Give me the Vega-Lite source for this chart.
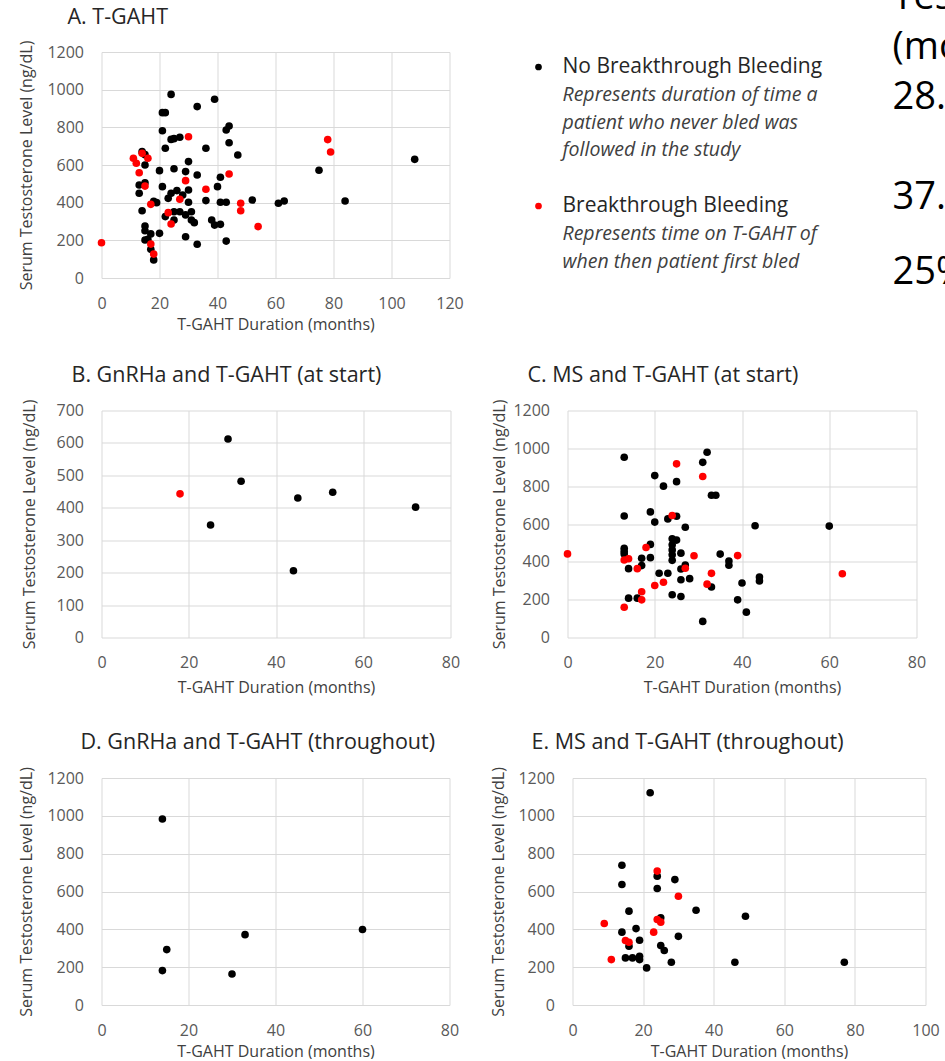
{
  "$schema": "https://vega.github.io/schema/vega-lite/v6.json",
  "padding": {"left": 18.5, "top": -21, "right": 0, "bottom": 0},
  "background": "white",
  "spacing": 32.5,
  "config": {
    "font": "Open Sans",
    "view": {"stroke": null},
    "axis": {"grid": true, "gridColor": "#d9d9d9", "gridWidth": 1, "domain": false, "ticks": false, "labelFlush": false, "labelColor": "#595959", "labelFontSize": 16, "titleColor": "#404040", "titleFontSize": 16, "titleFontWeight": "normal"},
    "axisX": {"labelPadding": 17, "titlePadding": 5},
    "axisY": {"labelPadding": 18},
    "title": {"anchor": "start", "fontSize": 21.5, "fontWeight": "normal", "color": "#262626", "frame": "group"}
  },
  "datasets": {
    "A": [
      {"months": 24, "level": 975, "status": "none"}, {"months": 21, "level": 878, "status": "none"}, {"months": 22, "level": 878, "status": "none"},
      {"months": 33, "level": 910, "status": "none"}, {"months": 39, "level": 949, "status": "none"}, {"months": 21, "level": 782, "status": "none"},
      {"months": 24, "level": 736, "status": "none"}, {"months": 25, "level": 740, "status": "none"}, {"months": 27, "level": 747, "status": "none"},
      {"months": 22, "level": 689, "status": "none"}, {"months": 36, "level": 689, "status": "none"}, {"months": 44, "level": 807, "status": "none"},
      {"months": 43, "level": 786, "status": "none"}, {"months": 44, "level": 718, "status": "none"}, {"months": 47, "level": 653, "status": "none"},
      {"months": 14, "level": 671, "status": "none"}, {"months": 15, "level": 655, "status": "none"}, {"months": 15, "level": 600, "status": "none"},
      {"months": 20, "level": 570, "status": "none"}, {"months": 25, "level": 580, "status": "none"}, {"months": 30, "level": 618, "status": "none"},
      {"months": 29, "level": 565, "status": "none"}, {"months": 33, "level": 547, "status": "none"}, {"months": 41, "level": 535, "status": "none"},
      {"months": 40, "level": 485, "status": "none"}, {"months": 13, "level": 494, "status": "none"}, {"months": 13, "level": 450, "status": "none"},
      {"months": 15, "level": 506, "status": "none"}, {"months": 21, "level": 485, "status": "none"}, {"months": 24, "level": 450, "status": "none"},
      {"months": 26, "level": 464, "status": "none"}, {"months": 23, "level": 423, "status": "none"}, {"months": 28, "level": 441, "status": "none"},
      {"months": 30, "level": 467, "status": "none"}, {"months": 19, "level": 400, "status": "none"}, {"months": 18, "level": 407, "status": "none"},
      {"months": 14, "level": 357, "status": "none"}, {"months": 30, "level": 402, "status": "none"}, {"months": 36, "level": 411, "status": "none"},
      {"months": 41, "level": 402, "status": "none"}, {"months": 43, "level": 402, "status": "none"}, {"months": 52, "level": 414, "status": "none"},
      {"months": 61, "level": 397, "status": "none"}, {"months": 63, "level": 409, "status": "none"}, {"months": 75, "level": 572, "status": "none"},
      {"months": 84, "level": 409, "status": "none"}, {"months": 108, "level": 630, "status": "none"}, {"months": 22, "level": 326, "status": "none"},
      {"months": 25, "level": 352, "status": "none"}, {"months": 25, "level": 308, "status": "none"}, {"months": 27, "level": 352, "status": "none"},
      {"months": 29, "level": 335, "status": "none"}, {"months": 31, "level": 352, "status": "none"}, {"months": 31, "level": 308, "status": "none"},
      {"months": 32, "level": 294, "status": "none"}, {"months": 38, "level": 308, "status": "none"}, {"months": 39, "level": 281, "status": "none"},
      {"months": 41, "level": 285, "status": "none"}, {"months": 15, "level": 276, "status": "none"}, {"months": 15, "level": 251, "status": "none"},
      {"months": 17, "level": 234, "status": "none"}, {"months": 15, "level": 202, "status": "none"}, {"months": 16, "level": 205, "status": "none"},
      {"months": 20, "level": 237, "status": "none"}, {"months": 18, "level": 96, "status": "none"}, {"months": 17, "level": 152, "status": "none"},
      {"months": 29, "level": 219, "status": "none"}, {"months": 33, "level": 179, "status": "none"}, {"months": 43, "level": 196, "status": "none"},
      {"months": 0, "level": 187, "status": "bleed"}, {"months": 11, "level": 636, "status": "bleed"}, {"months": 12, "level": 609, "status": "bleed"},
      {"months": 14, "level": 662, "status": "bleed"}, {"months": 16, "level": 636, "status": "bleed"}, {"months": 13, "level": 559, "status": "bleed"},
      {"months": 15, "level": 488, "status": "bleed"}, {"months": 17, "level": 391, "status": "bleed"}, {"months": 23, "level": 347, "status": "bleed"},
      {"months": 24, "level": 287, "status": "bleed"}, {"months": 27, "level": 418, "status": "bleed"}, {"months": 30, "level": 750, "status": "bleed"},
      {"months": 29, "level": 517, "status": "bleed"}, {"months": 36, "level": 471, "status": "bleed"}, {"months": 44, "level": 552, "status": "bleed"},
      {"months": 48, "level": 397, "status": "bleed"}, {"months": 48, "level": 357, "status": "bleed"}, {"months": 54, "level": 273, "status": "bleed"},
      {"months": 78, "level": 735, "status": "bleed"}, {"months": 79, "level": 669, "status": "bleed"}, {"months": 17, "level": 180, "status": "bleed"},
      {"months": 18, "level": 127, "status": "bleed"}
    ],
    "B": [
      {"months": 25, "level": 347, "status": "none"}, {"months": 29, "level": 612, "status": "none"}, {"months": 32, "level": 482, "status": "none"},
      {"months": 44, "level": 206, "status": "none"}, {"months": 45, "level": 430, "status": "none"}, {"months": 53, "level": 448, "status": "none"},
      {"months": 72, "level": 402, "status": "none"}, {"months": 18, "level": 443, "status": "bleed"}
    ],
    "C": [
      {"months": 13, "level": 953, "status": "none"}, {"months": 20, "level": 856, "status": "none"}, {"months": 22, "level": 800, "status": "none"},
      {"months": 25, "level": 824, "status": "none"}, {"months": 31, "level": 926, "status": "none"}, {"months": 32, "level": 979, "status": "none"},
      {"months": 33, "level": 752, "status": "none"}, {"months": 34, "level": 752, "status": "none"}, {"months": 13, "level": 642, "status": "none"},
      {"months": 19, "level": 664, "status": "none"}, {"months": 20, "level": 610, "status": "none"}, {"months": 23, "level": 627, "status": "none"},
      {"months": 25, "level": 641, "status": "none"}, {"months": 27, "level": 583, "status": "none"}, {"months": 43, "level": 591, "status": "none"},
      {"months": 60, "level": 589, "status": "none"}, {"months": 13, "level": 472, "status": "none"}, {"months": 13, "level": 455, "status": "none"},
      {"months": 13, "level": 441, "status": "none"}, {"months": 14, "level": 364, "status": "none"}, {"months": 14, "level": 208, "status": "none"},
      {"months": 16, "level": 208, "status": "none"}, {"months": 17, "level": 419, "status": "none"}, {"months": 17, "level": 380, "status": "none"},
      {"months": 19, "level": 492, "status": "none"}, {"months": 19, "level": 422, "status": "none"}, {"months": 21, "level": 340, "status": "none"},
      {"months": 23, "level": 340, "status": "none"}, {"months": 24, "level": 522, "status": "none"}, {"months": 24, "level": 490, "status": "none"},
      {"months": 24, "level": 463, "status": "none"}, {"months": 24, "level": 437, "status": "none"}, {"months": 24, "level": 408, "status": "none"},
      {"months": 25, "level": 515, "status": "none"}, {"months": 26, "level": 446, "status": "none"}, {"months": 26, "level": 362, "status": "none"},
      {"months": 26, "level": 305, "status": "none"}, {"months": 24, "level": 226, "status": "none"}, {"months": 26, "level": 217, "status": "none"},
      {"months": 27, "level": 383, "status": "none"}, {"months": 28, "level": 311, "status": "none"}, {"months": 31, "level": 85, "status": "none"},
      {"months": 33, "level": 267, "status": "none"}, {"months": 35, "level": 441, "status": "none"}, {"months": 37, "level": 404, "status": "none"},
      {"months": 37, "level": 382, "status": "none"}, {"months": 40, "level": 288, "status": "none"}, {"months": 39, "level": 199, "status": "none"},
      {"months": 41, "level": 134, "status": "none"}, {"months": 44, "level": 320, "status": "none"}, {"months": 44, "level": 299, "status": "none"},
      {"months": 0, "level": 442, "status": "bleed"}, {"months": 13, "level": 160, "status": "bleed"}, {"months": 13, "level": 410, "status": "bleed"},
      {"months": 14, "level": 416, "status": "bleed"}, {"months": 16, "level": 364, "status": "bleed"}, {"months": 17, "level": 242, "status": "bleed"},
      {"months": 17, "level": 199, "status": "bleed"}, {"months": 18, "level": 476, "status": "bleed"}, {"months": 20, "level": 275, "status": "bleed"},
      {"months": 22, "level": 292, "status": "bleed"}, {"months": 24, "level": 645, "status": "bleed"}, {"months": 25, "level": 918, "status": "bleed"},
      {"months": 27, "level": 366, "status": "bleed"}, {"months": 29, "level": 432, "status": "bleed"}, {"months": 31, "level": 851, "status": "bleed"},
      {"months": 32, "level": 282, "status": "bleed"}, {"months": 33, "level": 339, "status": "bleed"}, {"months": 39, "level": 433, "status": "bleed"},
      {"months": 63, "level": 337, "status": "bleed"}
    ],
    "D": [
      {"months": 14, "level": 983, "status": "none"}, {"months": 15, "level": 293, "status": "none"}, {"months": 14, "level": 182, "status": "none"},
      {"months": 30, "level": 164, "status": "none"}, {"months": 33, "level": 372, "status": "none"}, {"months": 60, "level": 399, "status": "none"}
    ],
    "E": [
      {"months": 22, "level": 1122, "status": "none"}, {"months": 14, "level": 739, "status": "none"}, {"months": 14, "level": 637, "status": "none"},
      {"months": 24, "level": 681, "status": "none"}, {"months": 24, "level": 616, "status": "none"}, {"months": 29, "level": 663, "status": "none"},
      {"months": 16, "level": 496, "status": "none"}, {"months": 35, "level": 501, "status": "none"}, {"months": 25, "level": 461, "status": "none"},
      {"months": 14, "level": 385, "status": "none"}, {"months": 18, "level": 404, "status": "none"}, {"months": 19, "level": 342, "status": "none"},
      {"months": 16, "level": 311, "status": "none"}, {"months": 30, "level": 363, "status": "none"}, {"months": 25, "level": 314, "status": "none"},
      {"months": 26, "level": 288, "status": "none"}, {"months": 15, "level": 249, "status": "none"}, {"months": 17, "level": 249, "status": "none"},
      {"months": 19, "level": 258, "status": "none"}, {"months": 19, "level": 240, "status": "none"}, {"months": 21, "level": 196, "status": "none"},
      {"months": 28, "level": 226, "status": "none"}, {"months": 46, "level": 226, "status": "none"}, {"months": 77, "level": 226, "status": "none"},
      {"months": 49, "level": 469, "status": "none"},
      {"months": 9, "level": 431, "status": "bleed"}, {"months": 11, "level": 240, "status": "bleed"}, {"months": 15, "level": 341, "status": "bleed"},
      {"months": 16, "level": 332, "status": "bleed"}, {"months": 24, "level": 708, "status": "bleed"}, {"months": 30, "level": 575, "status": "bleed"},
      {"months": 24, "level": 452, "status": "bleed"}, {"months": 25, "level": 438, "status": "bleed"}, {"months": 23, "level": 385, "status": "bleed"}
    ],
    "legend": [
      {"status": "none", "row": 0, "kind": "head", "text": "No Breakthrough Bleeding"},
      {"status": "none", "row": 1, "kind": "note", "text": "Represents duration of time a"},
      {"status": "none", "row": 2, "kind": "note", "text": "patient who never bled was"},
      {"status": "none", "row": 3, "kind": "note", "text": "followed in the study"},
      {"status": "bleed", "row": 5, "kind": "head", "text": "Breakthrough Bleeding"},
      {"status": "bleed", "row": 6, "kind": "note", "text": "Represents time on T-GAHT of"},
      {"status": "bleed", "row": 7, "kind": "note", "text": "when then patient first bled"}
    ],
    "side": [
      {"line": 0, "text": "Tes"},
      {"line": 2, "text": "(mo"},
      {"line": 4, "text": "28."},
      {"line": 8, "text": "37."},
      {"line": 11, "text": "25%"}
    ]
  },
  "vconcat": [
    {
      "spacing": 16,
      "hconcat": [
        {
          "width": 348, "height": 226,
          "data": {"name": "A"},
          "title": {"text": "A. T-GAHT", "dx": -34, "offset": 12},
          "mark": {"type": "point", "filled": true, "size": 58, "opacity": 1},
          "encoding": {
            "x": {"field": "months", "type": "quantitative", "scale": {"domain": [0, 120], "nice": false}, "axis": {"values": [0, 20, 40, 60, 80, 100, 120], "title": "T-GAHT Duration (months)"}},
            "y": {"field": "level", "type": "quantitative", "scale": {"domain": [0, 1200], "nice": false}, "axis": {"values": [0, 200, 400, 600, 800, 1000, 1200], "format": "d", "title": "Serum Testosterone Level (ng/dL)", "titlePadding": 12}},
            "color": {"field": "status", "type": "nominal", "scale": {"domain": ["none", "bleed"], "range": ["#000000", "#ff0000"]}, "legend": null}
          }
        },
        {
          "width": 413, "height": 250,
          "layer": [
            {
              "data": {"name": "legend"},
              "transform": [{"filter": "datum.kind === 'head'"}],
              "mark": {"type": "point", "filled": true, "size": 45, "opacity": 1},
              "encoding": {
                "x": {"value": 59},
                "y": {"field": "row", "type": "quantitative", "scale": {"domain": [-0.54, 8.453], "reverse": true, "nice": false, "zero": false}, "axis": null},
                "color": {"field": "status", "type": "nominal", "scale": {"domain": ["none", "bleed"], "range": ["#000000", "#ff0000"]}, "legend": null}
              }
            },
            {
              "data": {"name": "legend"},
              "transform": [{"filter": "datum.kind === 'head'"}],
              "mark": {"type": "text", "align": "left", "baseline": "middle", "fontSize": 21, "color": "#262626"},
              "encoding": {
                "x": {"value": 83},
                "y": {"field": "row", "type": "quantitative", "scale": {"domain": [-0.54, 8.453], "reverse": true, "nice": false, "zero": false}, "axis": null},
                "text": {"field": "text"}
              }
            },
            {
              "data": {"name": "legend"},
              "transform": [{"filter": "datum.kind === 'note'"}],
              "mark": {"type": "text", "align": "left", "baseline": "middle", "fontSize": 19.5, "fontStyle": "italic", "color": "#404040"},
              "encoding": {
                "x": {"value": 83},
                "y": {"field": "row", "type": "quantitative", "scale": {"domain": [-0.54, 8.453], "reverse": true, "nice": false, "zero": false}, "axis": null},
                "text": {"field": "text"}
              }
            },
            {
              "data": {"name": "side"},
              "mark": {"type": "text", "align": "left", "baseline": "middle", "fontSize": 38, "color": "#000000"},
              "encoding": {
                "x": {"value": 413},
                "y": {"field": "line", "type": "quantitative", "scale": {"domain": [2.16, 12.16], "reverse": true, "nice": false, "zero": false}, "axis": null},
                "text": {"field": "text"}
              }
            }
          ],
          "resolve": {"scale": {"y": "independent"}}
        }
      ]
    },
    {
      "spacing": 36.5,
      "vconcat": [
        {
          "spacing": 30,
          "hconcat": [
            {
              "width": 349, "height": 227,
              "data": {"name": "B"},
              "title": {"text": "B. GnRHa and T-GAHT (at start)", "dx": -30, "offset": 13},
              "mark": {"type": "point", "filled": true, "size": 58, "opacity": 1},
              "encoding": {
                "x": {"field": "months", "type": "quantitative", "scale": {"domain": [0, 80], "nice": false}, "axis": {"values": [0, 20, 40, 60, 80], "title": "T-GAHT Duration (months)", "titlePadding": 9}},
                "y": {"field": "level", "type": "quantitative", "scale": {"domain": [0, 700], "nice": false}, "axis": {"values": [0, 100, 200, 300, 400, 500, 600, 700], "format": "d", "title": "Serum Testosterone Level (ng/dL)", "titlePadding": 19}},
                "color": {"field": "status", "type": "nominal", "scale": {"domain": ["none", "bleed"], "range": ["#000000", "#ff0000"]}, "legend": null}
              }
            },
            {
              "width": 349, "height": 227,
              "data": {"name": "C"},
              "title": {"text": "C. MS and T-GAHT (at start)", "dx": -40, "offset": 13},
              "mark": {"type": "point", "filled": true, "size": 58, "opacity": 1},
              "encoding": {
                "x": {"field": "months", "type": "quantitative", "scale": {"domain": [0, 80], "nice": false}, "axis": {"values": [0, 20, 40, 60, 80], "title": "T-GAHT Duration (months)", "titlePadding": 9}},
                "y": {"field": "level", "type": "quantitative", "scale": {"domain": [0, 1200], "nice": false}, "axis": {"values": [0, 200, 400, 600, 800, 1000, 1200], "format": "d", "title": "Serum Testosterone Level (ng/dL)", "titlePadding": 5.5}},
                "color": {"field": "status", "type": "nominal", "scale": {"domain": ["none", "bleed"], "range": ["#000000", "#ff0000"]}, "legend": null}
              }
            }
          ]
        },
        {
          "spacing": 30,
          "hconcat": [
            {
              "width": 348, "height": 227,
              "data": {"name": "D"},
              "title": {"text": "D. GnRHa and T-GAHT (throughout)", "dx": -21, "offset": 13},
              "mark": {"type": "point", "filled": true, "size": 58, "opacity": 1},
              "encoding": {
                "x": {"field": "months", "type": "quantitative", "scale": {"domain": [0, 80], "nice": false}, "axis": {"values": [0, 20, 40, 60, 80], "title": "T-GAHT Duration (months)"}},
                "y": {"field": "level", "type": "quantitative", "scale": {"domain": [0, 1200], "nice": false}, "axis": {"values": [0, 200, 400, 600, 800, 1000, 1200], "format": "d", "title": "Serum Testosterone Level (ng/dL)", "titlePadding": 12}},
                "color": {"field": "status", "type": "nominal", "scale": {"domain": ["none", "bleed"], "range": ["#000000", "#ff0000"]}, "legend": null}
              }
            },
            {
              "width": 353, "height": 227,
              "data": {"name": "E"},
              "title": {"text": "E. MS and T-GAHT (throughout)", "dx": -41, "offset": 13},
              "mark": {"type": "point", "filled": true, "size": 58, "opacity": 1},
              "encoding": {
                "x": {"field": "months", "type": "quantitative", "scale": {"domain": [0, 100], "nice": false}, "axis": {"values": [0, 20, 40, 60, 80, 100], "title": "T-GAHT Duration (months)"}},
                "y": {"field": "level", "type": "quantitative", "scale": {"domain": [0, 1200], "nice": false}, "axis": {"values": [0, 200, 400, 600, 800, 1000, 1200], "format": "d", "title": "Serum Testosterone Level (ng/dL)", "titlePadding": 11.5}},
                "color": {"field": "status", "type": "nominal", "scale": {"domain": ["none", "bleed"], "range": ["#000000", "#ff0000"]}, "legend": null}
              }
            }
          ]
        }
      ]
    }
  ]
}
